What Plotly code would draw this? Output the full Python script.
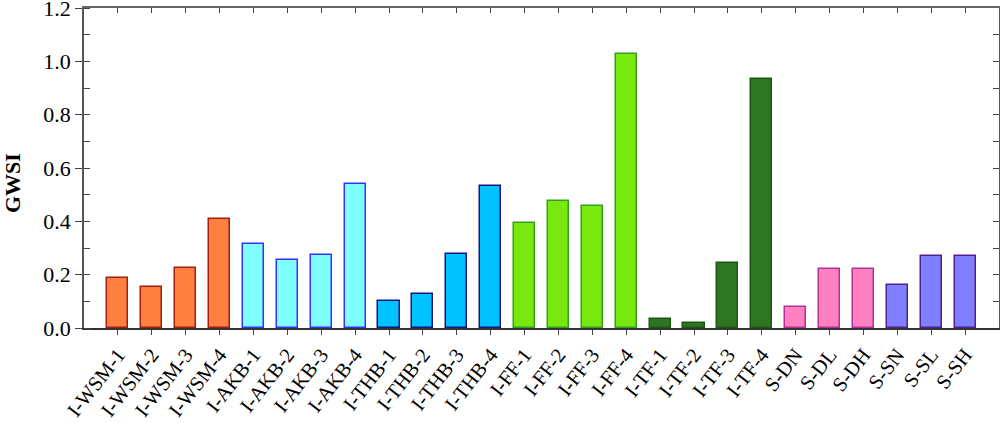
import plotly.graph_objects as go

categories = ["I-WSM-1", "I-WSM-2", "I-WSM-3", "I-WSM-4",
              "I-AKB-1", "I-AKB-2", "I-AKB-3", "I-AKB-4",
              "I-THB-1", "I-THB-2", "I-THB-3", "I-THB-4",
              "I-FF-1", "I-FF-2", "I-FF-3", "I-FF-4",
              "I-TF-1", "I-TF-2", "I-TF-3", "I-TF-4",
              "S-DN", "S-DL", "S-DH", "S-SN", "S-SL", "S-SH"]
gwsi = [0.189, 0.153, 0.226, 0.408,
        0.316, 0.255, 0.275, 0.540,
        0.100, 0.127, 0.276, 0.532,
        0.394, 0.475, 0.459, 1.026,
        0.033, 0.018, 0.244, 0.932,
        0.080, 0.220, 0.220, 0.160, 0.269, 0.269]
y_ticks = [0, 0.2, 0.4, 0.6, 0.8, 1.0, 1.2]
y_tick_labels = ["0.0", "0.2", "0.4", "0.6", "0.8", "1.0", "1.2"]
fills = (["#FF7F40"] * 4 + ["#80FFFF"] * 4 + ["#00C2FF"] * 4 + ["#78E80E"] * 4
         + ["#2D7520"] * 4 + ["#FF80C0"] * 3 + ["#8080FF"] * 3)
edges = (["#A01E0A"] * 4 + ["#3232FF"] * 4 + ["#141480"] * 4 + ["#32A020"] * 4
         + ["#1A5A10"] * 4 + ["#B0309A"] * 3 + ["#502090"] * 3)

idx = list(range(len(categories)))

fig = go.Figure()
fig.add_trace(go.Bar(x=idx, y=gwsi, width=0.62,
                     marker=dict(color=fills, line=dict(color=edges, width=1.5)),
                     showlegend=False, hoverinfo="skip"))
fig.add_trace(go.Scatter(x=[0], y=[0], xaxis="x2", yaxis="y2", mode="markers",
                         marker=dict(opacity=0), showlegend=False, hoverinfo="skip"))

font_family = "Liberation Serif"
fig.update_layout(
    width=1000, height=423,
    margin=dict(l=84, r=1, t=8, b=95),
    plot_bgcolor="white", paper_bgcolor="white",
    font=dict(family=font_family, color="black"),
    bargap=0,
    xaxis=dict(range=[-1, 26], tickmode="array", tickvals=idx, ticktext=categories,
               tickangle=-52, ticks="outside", ticklen=5, tickcolor="#444",
               showline=True, linecolor="#333", linewidth=1.5, automargin=False,
               ticklabeloverflow="allow",
               showgrid=False, zeroline=False, tickfont=dict(size=20.5)),
    yaxis=dict(range=[0, 1.2], tickmode="array",
               tickvals=y_ticks, ticktext=y_tick_labels,
               ticks="outside", ticklen=7, tickcolor="#444",
               minor=dict(ticks="inside", dtick=0.1, tick0=0, ticklen=6, tickcolor="#444"),
               showline=True, linecolor="#555", linewidth=1.5, automargin=False,
               ticklabeloverflow="allow",
               showgrid=False, zeroline=False, tickfont=dict(size=22)),
    xaxis2=dict(range=[-1, 26], overlaying="x", side="top", tickmode="array",
                tickvals=idx, showticklabels=False, ticks="inside", ticklen=5,
                tickcolor="#444", showline=True, linecolor="#666", linewidth=1.5,
                showgrid=False, zeroline=False, automargin=False),
    yaxis2=dict(range=[0, 1.2], overlaying="y", side="right", dtick=0.1, tick0=0,
                showticklabels=False, ticks="inside", ticklen=6, tickcolor="#444",
                showline=True, linecolor="#555", linewidth=1.5,
                showgrid=False, zeroline=False, automargin=False),
    annotations=[dict(text="<b>GWSI</b>", xref="paper", yref="paper", x=0, y=0.453,
                      xanchor="center", yanchor="middle", xshift=-72, textangle=-90,
                      showarrow=False, font=dict(size=22, family=font_family))],
)

fig.write_html("out.html", config={"displayModeBar": False},
               post_script="document.body.style.margin='0';")
